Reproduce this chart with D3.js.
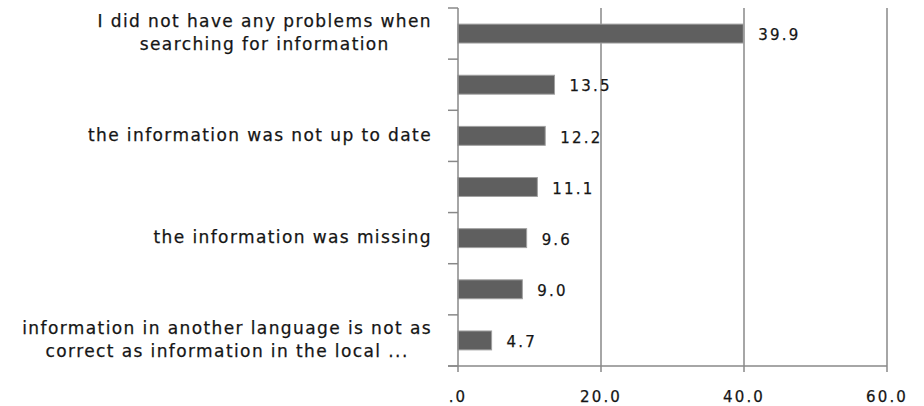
<!DOCTYPE html>
<html>
<head>
<meta charset="utf-8">
<script src="https://cdn.jsdelivr.net/npm/d3@7"></script>
<style>
  html, body { margin: 0; padding: 0; background: #fff; }
  svg { display: block; }
  text { font-family: "DejaVu Sans", Verdana, sans-serif; fill: #151515; stroke: #151515; stroke-width: 0.25px; }
</style>
</head>
<body>
<svg id="chart" width="924" height="406"></svg>
<script>
// ---- data ----
const categories = [
  ["I did not have any problems when", "searching for information"],
  [],
  ["the information was not up to date"],
  [],
  ["the information was missing"],
  [],
  ["information in another language is not as", "correct as information in the local ..."]
];
const values = [39.9, 13.5, 12.2, 11.1, 9.6, 9.0, 4.7];
const xTicks = [0, 20, 40, 60];
const xTickLabels = [".0", "20.0", "40.0", "60.0"];

// ---- layout ----
const M = { left: 458, right: 887, top: 8, bottom: 366 };
const labelRight = 432;

const svg = d3.select("#chart");

const x = d3.scaleLinear().domain([0, 60]).range([M.left, M.right]);
const y = d3.scaleBand().domain(d3.range(values.length)).range([M.top, M.bottom])
  .paddingInner(0.63).paddingOuter(0.315);
const step = (M.bottom - M.top) / values.length;

const axisColor = "#888888";

// gridlines
svg.append("g").selectAll("line").data(xTicks.slice(1)).join("line")
  .attr("x1", d => x(d)).attr("x2", d => x(d))
  .attr("y1", M.top).attr("y2", M.bottom)
  .attr("stroke", axisColor).attr("stroke-width", 1.5);

// bars
svg.append("g").selectAll("rect").data(values).join("rect")
  .attr("x", x(0))
  .attr("y", (d, i) => y(i))
  .attr("width", d => x(d) - x(0))
  .attr("height", y.bandwidth())
  .attr("fill", "#5f5f5f")
  .attr("stroke", "#a0a0a0")
  .attr("stroke-width", 1);

// value labels
svg.append("g").selectAll("text").data(values).join("text")
  .attr("x", d => x(d) + 15)
  .attr("y", (d, i) => y(i) + y.bandwidth() / 2)
  .attr("dy", "0.45em")
  .attr("font-size", 15)
  .attr("letter-spacing", 2.2)
  .text(d => d.toFixed(1));

// y axis line + ticks
const yAxisG = svg.append("g");
yAxisG.append("line")
  .attr("x1", M.left).attr("x2", M.left).attr("y1", M.top).attr("y2", M.bottom)
  .attr("stroke", axisColor).attr("stroke-width", 1.5);
const boundaries = d3.range(values.length + 1).map(i => M.top + i * step);
yAxisG.selectAll("line.tk").data(boundaries).join("line").attr("class", "tk")
  .attr("x1", M.left - 10).attr("x2", M.left)
  .attr("y1", d => d).attr("y2", d => d)
  .attr("stroke", axisColor).attr("stroke-width", 1.5);

// x axis line + ticks
const xAxisG = svg.append("g");
xAxisG.append("line")
  .attr("x1", M.left - 10).attr("x2", M.right).attr("y1", M.bottom).attr("y2", M.bottom)
  .attr("stroke", axisColor).attr("stroke-width", 1.5);
xAxisG.selectAll("line.tk").data(xTicks).join("line").attr("class", "tk")
  .attr("x1", d => x(d)).attr("x2", d => x(d))
  .attr("y1", M.bottom).attr("y2", M.bottom + 6)
  .attr("stroke", axisColor).attr("stroke-width", 1.5);
xAxisG.selectAll("text").data(xTicks).join("text")
  .attr("x", d => x(d))
  .attr("y", 402)
  .attr("text-anchor", "middle")
  .attr("font-size", 15)
  .attr("letter-spacing", 2.2)
  .text((d, i) => xTickLabels[i]);

// category labels (multi-line, centered, block right-aligned)
const lineH = 23;
const catG = svg.append("g");
categories.forEach((lines, i) => {
  if (!lines.length) return;
  const cy = y(i) + y.bandwidth() / 2;
  const t = catG.append("text")
    .attr("font-size", 17)
    .attr("letter-spacing", 1.4)
    .attr("text-anchor", "middle");
  const n = lines.length;
  const spans = lines.map((s, k) => t.append("tspan")
    .attr("y", cy + (k - (n - 1) / 2) * lineH)
    .attr("dy", "0.3em")
    .text(s));
  let maxW = 0;
  spans.forEach(sp => { maxW = Math.max(maxW, sp.node().getComputedTextLength()); });
  const cx = labelRight - maxW / 2;
  spans.forEach(sp => sp.attr("x", cx));
});
</script>
</body>
</html>
